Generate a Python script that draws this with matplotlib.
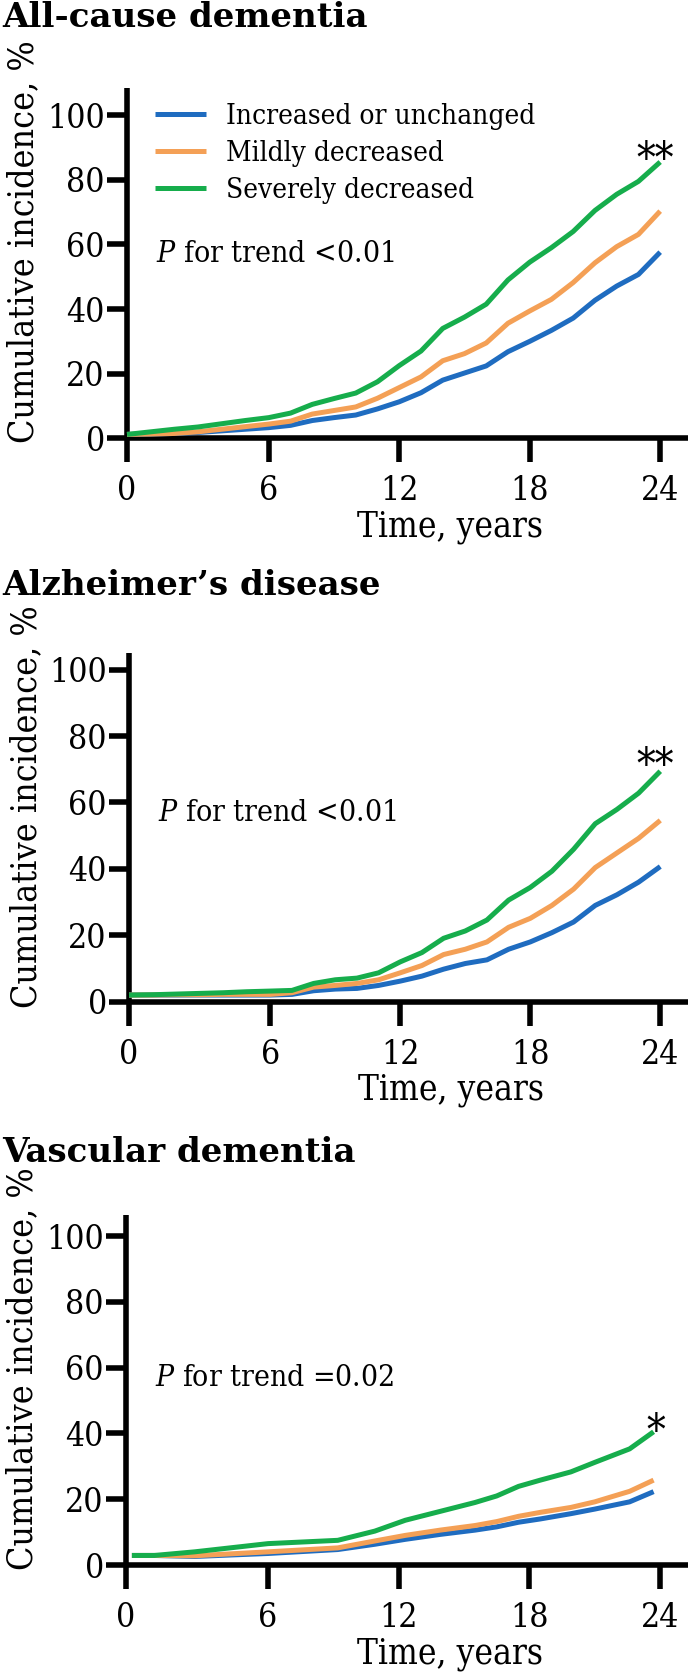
import numpy as np
import matplotlib
matplotlib.use("Agg")
import matplotlib.pyplot as plt
from matplotlib.textpath import TextPath
from matplotlib.font_manager import FontProperties, fontManager

plt.rcParams['font.family'] = ['DejaVu Serif']
plt.rcParams['mathtext.fontset'] = 'dejavuserif'

# use the condensed cut of DejaVu Serif if it is installed (the original text is narrow)
_fonts = fontManager.ttflist
if any(f.name == 'DejaVu Serif Condensed' for f in _fonts):
    plt.rcParams['font.family'] = ['DejaVu Serif Condensed', 'DejaVu Serif']
elif any(f.name == 'DejaVu Serif' and str(f.stretch) in ('condensed', '400', 'semi-condensed')
         for f in _fonts if 'Condensed' in f.fname):
    plt.rcParams['font.stretch'] = 'condensed'

# ---------------- data ----------------
series_names = ["Increased or unchanged", "Mildly decreased", "Severely decreased"]
colors = ["#1f6cc0", "#f4a056", "#16ad4c"]

years = list(range(0, 25))

# All-cause dementia
allcause_blue = [1.2, 1.3, 1.5, 1.8, 2.3, 2.8, 3.3, 4.0, 5.5, 6.4, 7.2, 9.1, 11.3, 14.1, 18.0,
                 20.2, 22.4, 26.8, 30.0, 33.4, 37.2, 42.7, 47.1, 50.7, 57.6]
allcause_orange = [1.2, 1.3, 1.5, 2.0, 2.8, 3.6, 4.4, 5.3, 7.5, 8.6, 9.7, 12.4, 15.7, 19.0, 24.0,
                   26.2, 29.5, 35.6, 39.4, 43.0, 48.2, 54.3, 59.3, 63.1, 70.3]
allcause_green = [1.2, 2.0, 2.8, 3.5, 4.5, 5.5, 6.4, 7.8, 10.5, 12.3, 14.0, 17.5, 22.5, 27.0, 34.0,
                  37.5, 41.5, 49.0, 54.5, 59.0, 64.0, 70.5, 75.5, 79.5, 85.5]

# Alzheimer's disease
ad_blue = [2.0, 2.0, 2.0, 2.0, 2.0, 2.0, 2.0, 2.2, 3.3, 3.8, 4.0, 4.9, 6.2, 7.7, 9.8,
           11.5, 12.6, 15.8, 18.0, 20.8, 24.0, 29.0, 32.2, 36.0, 40.7]
ad_orange = [2.0, 2.0, 2.1, 2.1, 2.2, 2.2, 2.2, 2.7, 4.4, 4.9, 5.5, 6.6, 8.7, 10.9, 14.2,
             15.8, 18.0, 22.4, 25.1, 29.0, 33.9, 40.4, 44.8, 49.2, 54.6]
ad_green = [2.0, 2.1, 2.3, 2.5, 2.7, 3.0, 3.2, 3.4, 5.5, 6.6, 7.1, 8.7, 12.0, 14.8, 19.1,
            21.3, 24.6, 30.6, 34.4, 39.3, 45.9, 53.6, 57.9, 62.8, 69.4]

# Vascular dementia
vad_years = [0.25, 1.2, 2.9, 6.0, 9.2, 10.9, 12.3, 13.9, 15.5, 16.5, 17.5, 18.5, 19.9, 21.0, 22.6, 23.7]
vad_blue = [2.9, 2.9, 2.6, 3.5, 4.7, 6.3, 7.8, 9.3, 10.6, 11.6, 13.0, 14.0, 15.6, 17.0, 19.2, 22.3]
vad_orange = [2.9, 2.9, 2.8, 4.0, 5.2, 7.3, 9.0, 10.6, 12.0, 13.2, 14.8, 16.0, 17.5, 19.2, 22.4, 25.8]
vad_green = [2.9, 2.9, 4.0, 6.5, 7.5, 10.3, 13.6, 16.3, 19.0, 21.0, 23.9, 25.8, 28.3, 31.2, 35.3, 40.5]

titles = ["All-cause dementia", "Alzheimer\u2019s disease", "Vascular dementia"]
p_texts = [r"$\mathit{P}$ for trend <0.01", r"$\mathit{P}$ for trend <0.01", r"$\mathit{P}$ for trend =0.02"]
stars = ["**", "**", "*"]
star_x = [23.77, 23.77, 23.8]
star_center_y = [89.0, 73.8, 43.3]
xticks = [0, 6, 12, 18, 24]
yticks = [0, 20, 40, 60, 80, 100]

panels = [
    (years, [allcause_blue, allcause_orange, allcause_green]),
    (years, [ad_blue, ad_orange, ad_green]),
    (vad_years, [vad_blue, vad_orange, vad_green]),
]

# ---------------- layout (pixels, measured on the reference) ----------------
W, H = 690, 1675
DPI = 100
PT2PX = DPI / 72.0
fig = plt.figure(figsize=(W / DPI, H / DPI), dpi=DPI)
renderer = fig.canvas.get_renderer()

# (left px, top px, bottom px, ylim top)
geo = [(127, 88, 438.3, 108.4), (129, 653, 1001.7, 105.0), (126, 1215, 1565, 106.4)]
title_base = [27, 595, 1162]
title_width = [392, 405, 383]
right_px = 688

K = 1.087  # first 6 years are drawn slightly wider in the original


def fwd(x):
    x = np.asarray(x, dtype=float)
    return np.where(x < 6, x * K, x + 6 * (K - 1))


def inv(y):
    y = np.asarray(y, dtype=float)
    return np.where(y < 6 * K, y / K, y - 6 * (K - 1))


def fit_width(t, target):
    bb = t.get_window_extent(renderer)
    t.set_fontsize(t.get_fontsize() * target / bb.width)


# asterisk size from its ink width (two asterisks ~36.5 px wide)
star_prop = FontProperties(family=plt.rcParams['font.family'])
ext2 = TextPath((0, 0), "**", size=1, prop=star_prop).get_extents()
star_px = 36.5 / ext2.width
star_pt = star_px / PT2PX

axes = []
title_artists = []
for i, ((xs, ys), (lpx, tpx, bpx, ytop)) in enumerate(zip(panels, geo)):
    ax = fig.add_axes([lpx / W, 1 - bpx / H, (right_px - lpx) / W, (bpx - tpx) / H])
    axes.append(ax)
    ax.set_xscale('function', functions=(fwd, inv))
    for y, c, name in zip(ys, colors, series_names):
        ax.plot(xs, y, color=c, lw=3.6, label=name, solid_capstyle='butt',
                solid_joinstyle='round', clip_on=False, zorder=3)
    ax.set_xlim(0, 25.28)
    ax.set_ylim(0, ytop)
    ax.set_xticks(xticks)
    ax.set_yticks(yticks)
    ax.minorticks_off()
    for s in ['top', 'right']:
        ax.spines[s].set_visible(False)
    for s in ['left', 'bottom']:
        ax.spines[s].set_linewidth(4.0)
        ax.spines[s].set_capstyle('butt')
    ax.tick_params(axis='both', direction='out', width=4.0, labelsize=22)
    ax.tick_params(axis='x', length=17, pad=9.5)
    ax.tick_params(axis='y', length=14.5, pad=1.5)

    # tick label size from the width of "100" (~58 px)
    fig.canvas.draw()
    lab100 = ax.yaxis.get_ticklabels()[-1]
    tsz = 22 * 58.0 / lab100.get_window_extent(renderer).width
    ax.tick_params(axis='both', labelsize=tsz)

    xl = ax.set_xlabel("Time, years", fontsize=23.5)
    ax.xaxis.set_label_coords(0.576, -0.205)
    fit_width(xl, 186)

    yl = ax.set_ylabel("Cumulative incidence, %", fontsize=23)
    ax.yaxis.set_label_coords(-0.154, 0.57)
    bb = yl.get_window_extent(renderer)
    yl.set_fontsize(yl.get_fontsize() * 403 / bb.height)
    bb = yl.get_window_extent(renderer)
    top_from_top = H - bb.y1
    ax_h = bpx - tpx
    ax.yaxis.set_label_coords(-0.154, 0.57 + (top_from_top - (tpx - 48)) / ax_h)

    pt = ax.text(1.23, 54.5, p_texts[i], fontsize=18, va='baseline', ha='left')
    fit_width(pt, 239)

    # asterisk: place so its ink centre sits at the measured position
    ext = TextPath((0, 0), stars[i], size=1, prop=star_prop).get_extents()
    ink_cy_px = (ext.y0 + ext.y1) / 2 * star_px
    px_per_unit = (bpx - tpx) / ytop
    ax.text(star_x[i], star_center_y[i] - ink_cy_px / px_per_unit, stars[i],
            fontsize=star_pt, va='baseline', ha='center')

    # panel titles: heavy, normal-width serif bold
    tt = fig.text(2 / W, 1 - title_base[i] / H, titles[i], fontsize=25, fontweight='bold',
                  family=['DejaVu Serif'], fontstretch='normal',
                  va='baseline', ha='left')
    fit_width(tt, title_width[i])
    title_artists.append(tt)

# use one common title size, small enough that the first title stays inside the figure
ts = np.mean([t.get_fontsize() for t in title_artists])
for _ in range(40):
    for t in title_artists:
        t.set_fontsize(ts)
    if title_artists[0].get_window_extent(renderer).y1 <= H - 1.0:
        break
    ts *= 0.99

# ---------------- legend (panel 1) ----------------
ax0 = axes[0]
lpx0, tpx0, bpx0, _ = geo[0]
axw0, axh0 = right_px - lpx0, bpx0 - tpx0
fs = 17.0
ls, htp, ax_x, ax_y = 0.6, 0.8, 0.05, 0.955
leg = None
for it in range(4):
    if leg is not None:
        leg.remove()
    fs_px = fs * PT2PX
    leg = ax0.legend(loc='upper left', bbox_to_anchor=(ax_x, ax_y), frameon=False,
                     fontsize=fs, handlelength=51 / fs_px, handletextpad=htp,
                     labelspacing=ls, borderpad=0, borderaxespad=0)
    fig.canvas.draw()
    texts = leg.get_texts()
    hands = leg.legend_handles
    tb = texts[0].get_window_extent(renderer)
    fs = fs * 309 / tb.width
    hb0 = hands[0].get_window_extent(renderer)
    hb2 = hands[2].get_window_extent(renderer)
    c0 = H - (hb0.y0 + hb0.y1) / 2
    c2 = H - (hb2.y0 + hb2.y1) / 2
    ls += ((188 - 114) - (c2 - c0)) / 2 / fs_px
    ax_y += (c0 - 114) / axh0
    ax_x += (155 - hb0.x0) / axw0
    htp += (226 - tb.x0) / fs_px

fig.savefig("out.png", dpi=DPI)
